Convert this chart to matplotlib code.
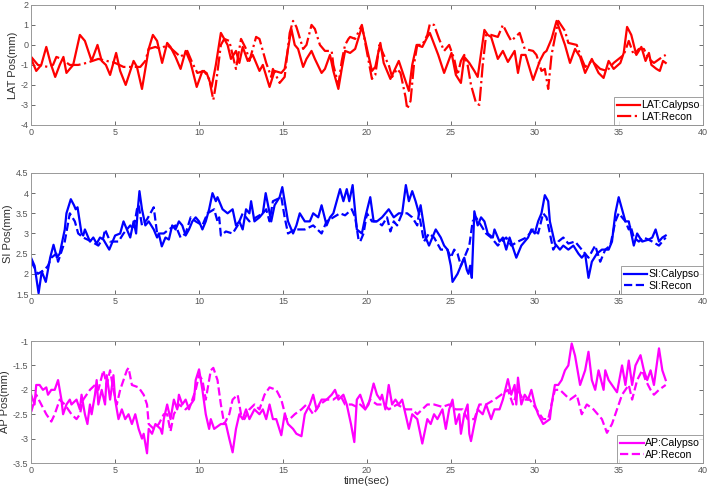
import matplotlib
matplotlib.use('Agg')
import matplotlib.pyplot as plt

# LAT (red)
lat_cal_t = [0.0, 0.3, 0.6, 0.9, 1.15, 1.43, 1.7, 1.92, 2.1, 2.5, 2.9, 3.2, 3.6, 3.95, 4.2, 4.45, 4.7,
             5.06, 5.3, 5.63, 6.1, 6.3, 6.6, 7.0, 7.25, 7.5, 7.8, 8.1, 8.3, 8.6, 8.9, 9.2, 9.5, 9.86,
             10.2, 10.45, 10.75, 11.0, 11.3, 11.7, 11.9, 12.2, 12.4, 12.6, 12.9, 13.2, 13.6, 13.8,
             14.2, 14.5, 14.9, 15.1, 15.5, 15.7, 15.9, 16.2, 16.4, 16.7, 16.9, 17.3, 17.5, 17.8,
             18.0, 18.3, 18.5, 18.7, 19.0, 19.3, 19.7, 19.9, 20.3, 20.5, 20.8, 21.0, 21.4, 21.9,
             22.1, 22.5, 22.7, 22.96, 23.3, 23.6, 23.75, 24.25, 24.6, 25.04, 25.3, 25.6, 25.8,
             26.1, 26.4, 26.6, 27.0, 27.2, 27.4, 27.8, 28.1, 28.4, 28.8, 29.0, 29.2, 29.45, 29.7,
             29.9, 30.3, 30.55, 30.7, 31.0, 31.3, 31.55, 31.8, 32.1, 32.4, 32.7, 33.0, 33.4, 33.8,
             34.1, 34.4, 34.7, 35.1, 35.3, 35.5, 35.75, 36.05, 36.35, 36.6, 36.8, 36.95, 37.25,
             37.45, 37.64, 37.8]
lat_cal_v = [-0.7, -1.3, -1.0, -0.1, -0.9, -1.6, -1.0, -0.6, -1.4, -1.0, 0.5, 0.2, -0.8, 0.0, -0.8, -1.0, -1.5,
             -0.4, -1.3, -2.0, -0.8, -1.1, -2.2, -0.2, 0.5, 0.2, -0.9, 0.1, -0.1, -0.6, -1.2, -0.3, -0.9, -2.1,
             -1.3, -1.4, -2.1, -1.0, 0.6, 0.0, -0.7, -0.3, -0.9, -0.1, -0.8, -0.5, -1.3, -1.0,
             -2.1, -1.3, -1.4, -1.2, 0.8, 0.0, -0.2, -1.1, -0.7, -0.3, -0.7, -1.4, -1.2, -0.5,
             -1.3, -2.2, -1.2, -0.3, -0.4, -0.2, 0.9, 0.2, -1.3, -1.1, 0.1, -0.9, -1.7, -0.8,
             -1.3, -2.3, -1.0, 0.0, -0.1, 0.4, 0.6, -0.5, -1.4, -0.4, -1.5, -1.9, -0.6,
             -0.9, -1.3, -1.6, 0.75, 0.5, 0.4, -0.7, -0.3, -0.85, -0.3, -1.4, -0.5, -0.5, -1.2,
             -1.75, -0.8, -0.4, -0.3, 0.3, 1.2, 0.6, 0.0, -0.9, -0.2, -0.6, -1.4, -0.7, -1.4,
             -1.65, -0.8, -1.2, -0.9, -0.4, 0.9, 0.5, -0.5, -0.1, -0.8, -0.4, -1.0, -1.2,
             -1.3, -0.8, -0.9]
lat_rec_t = [0.0, 0.4, 1.0, 1.3, 1.5, 1.8, 2.3, 2.8, 3.3, 4.0, 4.5, 5.0, 5.5, 6.5, 6.8, 7.0, 7.4, 7.7,
             8.1, 8.5, 8.9, 9.3, 9.6, 9.9, 10.3, 10.6, 10.85, 11.0, 11.3, 11.5, 11.8, 12.0, 12.2, 12.5,
             12.8, 13.0, 13.4, 13.6, 14.0, 14.3, 14.4, 14.8, 15.1, 15.4, 15.6, 15.8, 16.2, 16.4, 16.7,
             16.9, 17.2, 17.5, 17.9, 18.0, 18.3, 18.5, 18.7, 18.9, 19.0, 19.3, 19.7, 20.3, 20.5, 20.75,
             21.0, 21.3, 21.5, 21.8, 22.0, 22.3, 22.4, 22.6, 22.8, 23.0, 23.3, 23.6, 23.75, 24.0, 24.3,
             24.6, 24.9, 25.2, 25.4, 25.6, 25.8, 26.0, 26.2, 26.5, 26.7, 26.9, 27.1, 27.4, 27.8, 28.1,
             28.4, 28.6, 29.1, 29.4, 29.9, 30.1, 30.4, 30.6, 30.8, 31.0, 31.3, 31.4, 31.8, 32.0, 32.5,
             32.8, 33.0, 33.4, 33.9, 34.3, 34.7, 35.0, 35.3, 35.6, 35.9, 36.2, 36.5, 36.8, 37.1, 37.6, 37.8]
lat_rec_v = [-0.6, -1.0, -1.1, -1.0, -0.6, -0.7, -1.0, -1.0, -0.9, -0.7, -0.8, -0.9, -1.1, -1.1, -0.8, -0.2, -0.1, -0.2,
             0.0, -0.3, -0.6, -0.3, -0.9, -1.4, -1.3, -1.7, -2.75, -2.0, 0.0, 0.3, 0.2, -0.5, -1.2, 0.3,
             -0.2, -0.8, 0.4, 0.3, -0.9, -1.6, -1.2, -1.9, -1.6, 0.6, 1.2, 0.9, -0.2, 0.0, 1.0,
             0.8, 0.0, -0.3, -0.3, -1.0, -2.0, -0.8, 0.0, 0.3, 0.4, 0.3, 1.0, -1.7, -1.5, 0.0,
             -0.5, -1.0, -1.6, -1.2, -1.4, -2.6, -3.2, -2.8, -1.0, 0.0, 0.0, 0.5, 1.05, 1.0, 0.3,
             -0.3, 0.0, -0.7, -1.5, -0.8, -0.5, -1.0, -2.0, -2.9, -3.0, -1.0, 0.5, 0.5, 0.4, 1.0,
             0.5, 0.2, 0.6, -0.2, -0.3, -0.5, -1.3, -1.2, -2.2, -0.5, 0.8, 1.2, 0.7, 0.1, 0.0,
             -0.7, -1.1, -0.8, -1.2, -1.3, -0.9, -0.7, -0.5, 0.2, -0.5, -0.2, -0.2, -0.7, -0.9, -0.6, -0.5]

# SI (blue)
si_cal_t = [0.0, 0.2, 0.44, 0.63, 0.87, 1.13, 1.33, 1.53, 1.7, 1.9, 2.0, 2.1, 2.36, 2.55, 2.65, 2.76, 3.0,
            3.1, 3.2, 3.5, 3.7, 3.9, 4.1, 4.3, 4.65, 5.0, 5.3, 5.5, 5.7, 5.9, 6.1, 6.25, 6.35, 6.45, 6.6,
            6.8, 7.0, 7.3, 7.5, 7.6, 7.78, 8.0, 8.2, 8.4, 8.6, 8.8, 9.0, 9.2, 9.4, 9.6, 9.8, 10.0, 10.2,
            10.4, 10.6, 10.8, 11.0, 11.1, 11.4, 11.7, 12.0, 12.2, 12.4, 12.6, 12.8, 13.0, 13.1, 13.3,
            13.6, 13.8, 13.97, 14.3, 14.5, 14.8, 14.96, 15.1, 15.3, 15.6, 15.8, 16.0, 16.3, 16.6, 16.8,
            17.1, 17.3, 17.6, 17.8, 18.0, 18.2, 18.4, 18.6, 18.8, 18.95, 19.15, 19.4, 19.7, 19.9, 20.2,
            20.4, 20.6, 20.9, 21.3, 21.6, 21.9, 22.1, 22.32, 22.5, 22.7, 22.9, 23.1, 23.2, 23.5, 23.7,
            23.9, 24.1, 24.4, 24.6, 24.8, 25.0, 25.1, 25.4, 25.6, 25.8, 25.95, 26.05, 26.15, 26.25,
            26.4, 26.6, 26.8, 27.0, 27.2, 27.5, 27.6, 27.9, 28.1, 28.3, 28.5, 28.9, 29.2, 29.6, 29.8,
            30.0, 30.2, 30.4, 30.6, 30.8, 30.9, 31.2, 31.5, 31.7, 32.0, 32.3, 32.6, 32.8, 33.0, 33.2,
            33.4, 33.7, 34.0, 34.4, 34.6, 34.8, 35.0, 35.2, 35.4, 35.6, 35.8, 35.9, 36.1, 36.4, 36.8,
            37.0, 37.2, 37.4, 37.6, 37.8]
si_cal_v = [2.39, 2.2, 1.52, 2.06, 1.8, 2.4, 2.72, 2.4, 2.5, 2.9, 3.1, 3.5, 3.85, 3.7, 3.6, 3.65, 3.0,
            2.95, 3.1, 2.8, 2.9, 2.75, 2.9, 2.85, 2.6, 2.95, 3.0, 3.3, 3.1, 2.9, 3.3, 3.0, 3.6, 4.05, 3.6,
            3.2, 3.3, 3.1, 2.9, 3.0, 2.68, 2.9, 2.85, 3.2, 3.1, 3.3, 3.2, 2.95, 3.1, 3.3, 3.4, 3.3, 3.1,
            3.3, 3.6, 4.0, 3.8, 3.9, 3.6, 3.5, 3.6, 3.2, 3.3, 3.1, 3.6, 3.5, 3.8, 3.3,
            3.4, 3.5, 4.0, 3.3, 3.7, 3.9, 4.15, 3.8, 3.3, 3.0, 3.2, 3.5, 3.3, 3.3, 3.5,
            3.4, 3.7, 3.2, 3.4, 3.5, 3.8, 4.1, 3.8, 4.1, 3.8, 4.2, 3.1, 3.0, 3.4, 3.9,
            3.3, 3.3, 3.4, 3.6, 3.4, 3.5, 3.5, 4.2, 3.8, 4.05, 3.8, 3.5, 3.7, 2.9, 2.7,
            2.9, 3.1, 2.9, 2.7, 2.6, 2.2, 1.8, 2.0, 2.2, 2.4, 2.1, 2.0, 2.2, 1.9,
            3.55, 3.2, 3.4, 3.3, 3.0, 2.9, 3.1, 2.8, 2.9, 2.6, 2.9, 2.4, 2.7, 2.9, 3.1,
            3.0, 3.3, 3.5, 3.95, 3.8, 3.3, 2.75, 2.6, 2.7, 2.6, 2.7, 2.5, 2.4, 2.5, 1.9,
            2.3, 2.5, 2.6, 2.6, 2.8, 3.5, 3.9, 3.6, 3.3, 3.3, 2.9, 2.7, 3.0, 2.8, 2.85,
            2.9, 3.1, 2.8, 2.9, 2.95]
si_rec_t = [0.0, 0.4, 0.8, 1.0, 1.2, 1.5, 1.6, 2.0, 2.3, 2.6, 2.8, 3.1, 3.6, 4.0, 4.3, 4.4, 4.7, 5.2,
            5.5, 5.9, 6.1, 6.3, 6.4, 6.6, 6.9, 7.3, 7.5, 7.9, 8.2, 8.6, 8.9, 9.2, 9.5, 9.8, 10.2, 10.5,
            10.9, 11.1, 11.2, 11.3, 11.6, 12.0, 12.3, 12.6, 13.0, 13.4, 13.8, 14.0, 14.2, 14.4, 14.9,
            15.1, 15.3, 15.7, 16.3, 16.8, 17.3, 17.6, 18.0, 18.4, 18.7, 19.1, 19.3, 19.5, 19.6, 19.8,
            20.0, 20.3, 20.6, 20.9, 21.2, 21.4, 21.6, 21.8, 22.1, 22.4, 22.7, 23.0, 23.1, 23.4, 23.7,
            24.0, 24.4, 24.8, 25.0, 25.2, 25.4, 25.6, 25.9, 26.1, 26.3, 26.5, 26.8, 27.1, 27.4, 27.8,
            28.0, 28.3, 28.6, 29.0, 29.5, 29.9, 30.2, 30.5, 30.7, 31.1, 31.4, 31.7, 32.0, 32.4, 32.8,
            33.2, 33.6, 33.9, 34.2, 34.5, 34.8, 35.0, 35.4, 35.6, 35.7, 35.9, 36.2, 36.5, 37.0, 37.4,
            37.6, 37.8]
si_rec_v = [2.3, 2.0, 2.1, 2.2, 2.4, 2.5, 2.3, 2.8, 3.5, 3.3, 3.0, 2.9, 2.8, 2.7, 2.9, 3.1, 2.8, 2.8,
            3.0, 3.2, 3.1, 3.6, 3.7, 3.2, 3.35, 3.65, 3.0, 3.0, 3.1, 3.2, 2.9, 3.0, 3.4, 3.3, 3.2, 3.5,
            3.6, 3.3, 3.4, 2.95, 3.05, 3.0, 3.2, 3.5, 3.3, 3.4, 3.5, 3.6, 3.3, 3.8, 3.9,
            3.4, 3.0, 3.1, 3.1, 3.2, 3.0, 3.3, 3.4, 3.5, 3.45, 3.6, 3.4, 2.85, 2.8, 3.0,
            3.5, 3.3, 3.3, 3.2, 3.4, 3.05, 3.3, 3.2, 3.5, 3.5, 3.4, 3.2, 3.5, 2.8, 3.0,
            2.9, 2.6, 2.6, 2.4, 2.6, 2.5, 2.2, 2.5, 2.7, 3.3, 3.4, 3.2, 3.0, 2.9, 2.7,
            2.8, 2.9, 2.7, 2.8, 2.9, 3.1, 3.0, 3.5, 3.4, 2.6, 2.8, 2.9, 2.75, 2.8, 2.6,
            2.4, 2.7, 2.3, 2.6, 2.7, 3.3, 3.5, 3.3, 3.1, 3.2, 2.9, 2.8, 2.9, 2.8, 2.7,
            2.8, 2.9]

# AP (magenta)
ap_cal_t = [0.0, 0.2, 0.3, 0.5, 0.7, 0.9, 1.0, 1.2, 1.4, 1.6, 1.8, 1.9, 2.1, 2.3, 2.4, 2.7, 2.9, 3.0,
            3.2, 3.35, 3.5, 3.6, 3.8, 3.9, 4.0, 4.2, 4.4, 4.5, 4.7, 4.9, 5.0, 5.2, 5.4, 5.6, 5.8, 6.0,
            6.2, 6.4, 6.6, 6.7, 6.9, 7.0, 7.2, 7.4, 7.7, 7.8, 7.9, 8.1, 8.3, 8.5, 8.7, 8.8, 9.0, 9.2,
            9.4, 9.5, 9.7, 9.8, 10.0, 10.2, 10.4, 10.6, 10.7, 10.9, 11.3, 11.6, 11.8, 12.0, 12.2,
            12.4, 12.6, 12.8, 13.0, 13.3, 13.6, 13.8, 14.0, 14.2, 14.4, 14.6, 14.9, 15.1, 15.3, 15.6,
            15.8, 16.1, 16.3, 16.6, 16.8, 17.0, 17.3, 17.6, 17.9, 18.1, 18.3, 18.6, 18.8, 19.05,
            19.25, 19.4, 19.6, 19.9, 20.1, 20.4, 20.6, 20.8, 20.9, 21.1, 21.3, 21.5, 21.7, 21.9,
            22.1, 22.3, 22.5, 22.7, 23.0, 23.3, 23.6, 23.8, 24.0, 24.2, 24.5, 24.7, 24.9, 25.1,
            25.3, 25.5, 25.6, 25.8, 26.0, 26.1, 26.2, 26.4, 26.6, 26.9, 27.1, 27.4, 27.6, 27.9,
            28.1, 28.4, 28.6, 28.8, 28.9, 29.0, 29.2, 29.4, 29.6, 29.8, 30.0, 30.2, 30.5, 30.7,
            30.9, 31.0, 31.2, 31.4, 31.6, 31.8, 32.0, 32.2, 32.4, 32.7, 33.0, 33.2, 33.4, 33.6,
            33.8, 34.1, 34.2, 34.4, 34.6, 34.9, 35.2, 35.4, 35.6, 35.8, 36.0, 36.3, 36.5, 36.7,
            36.9, 37.1, 37.3, 37.4, 37.6, 37.8]
ap_cal_v = [-2.1, -2.3, -1.9, -1.9, -2.0, -1.95, -2.1, -2.0, -2.0, -1.8, -2.2, -2.5, -2.3, -2.2, -2.3, -2.2, -2.4, -2.1,
            -2.5, -2.7, -2.3, -2.5, -2.1, -1.8, -2.3, -2.0, -2.3, -1.7, -2.2, -1.7, -2.2, -2.6, -2.4, -2.6, -2.5, -2.7,
            -2.5, -2.8, -3.0, -2.9, -3.3, -2.8, -2.9, -2.7, -2.8, -2.9, -2.6, -2.3, -2.6, -2.2, -2.4, -2.1, -2.3, -2.2,
            -2.4, -2.3, -2.2, -1.8, -1.58, -2.0, -2.5, -2.8, -2.6, -2.8, -2.7, -2.7, -3.0, -3.28, -2.8,
            -2.5, -2.6, -2.4, -2.6, -2.4, -2.5, -2.4, -2.6, -2.3, -2.6, -2.6, -2.93, -2.5, -2.7, -2.8,
            -2.9, -2.95, -2.5, -2.3, -2.1, -2.4, -2.2, -2.2, -2.1, -2.0, -2.2, -2.1, -2.3, -2.7,
            -3.07, -2.2, -2.1, -2.4, -2.3, -1.87, -2.1, -2.2, -2.1, -2.4, -1.9, -2.3, -2.2, -2.3,
            -2.2, -2.5, -2.8, -2.5, -2.6, -3.1, -2.6, -2.7, -2.5, -2.6, -2.4, -2.8, -2.4, -2.2,
            -2.7, -2.5, -2.9, -2.5, -2.3, -2.9, -3.05, -2.7, -2.4, -2.5, -2.3, -2.6, -2.4, -2.4,
            -2.2, -1.78, -2.1, -1.9, -2.3, -1.75, -2.3, -2.1, -2.2, -2.0, -2.3, -2.5, -2.7, -2.65,
            -2.6, -2.3, -1.9, -1.9, -1.8, -1.6, -1.5, -1.05, -1.3, -1.9, -1.6, -1.22, -1.8, -2.0,
            -1.6, -2.0, -1.6, -1.8, -1.9, -2.05, -1.5, -1.9, -1.4, -1.9, -1.5, -1.29, -1.6, -1.8,
            -1.6, -1.9, -1.4, -1.15, -1.6, -1.8]
ap_rec_t = [0.0, 0.3, 0.6, 0.9, 1.2, 1.4, 1.7, 2.0, 2.4, 2.7, 2.9, 3.1, 3.5, 3.8, 4.0, 4.3, 4.5, 4.7,
            4.9, 5.1, 5.3, 5.7, 5.8, 6.0, 6.4, 6.7, 6.9, 7.0, 7.3, 7.6, 7.9, 8.1, 8.3, 8.5, 8.8, 9.2,
            9.5, 9.8, 10.0, 10.2, 10.4, 10.7, 10.85, 11.1, 11.3, 11.5, 11.8, 12.0, 12.3, 12.5, 12.7,
            13.0, 13.3, 13.6, 13.9, 14.2, 14.6, 14.9, 15.2, 15.4, 15.7, 16.1, 16.4, 16.8, 17.2, 17.6,
            18.0, 18.4, 18.7, 19.1, 19.4, 19.6, 19.9, 20.2, 20.6, 21.0, 21.3, 21.8, 22.3, 22.7, 23.0,
            23.6, 24.0, 24.5, 24.9, 25.3, 25.7, 26.0, 26.4, 26.7, 27.1, 27.6, 28.0, 28.4, 28.7, 29.0,
            29.3, 29.7, 30.1, 30.5, 30.8, 31.2, 31.5, 31.8, 32.1, 32.5, 32.8, 33.1, 33.5, 34.0, 34.3,
            34.6, 34.9, 35.2, 35.6, 35.8, 36.1, 36.4, 36.6, 36.9, 37.1, 37.4, 37.8]
ap_rec_v = [-2.45, -2.1, -2.3, -2.5, -2.65, -2.5, -2.2, -2.3, -2.5, -2.6, -2.5, -2.2, -2.0, -1.9, -2.0, -1.6, -1.9, -1.6,
            -2.0, -2.3, -2.0, -1.6, -1.55, -1.9, -1.95, -2.1, -2.3, -2.7, -2.8, -2.7, -2.5, -2.5, -2.85, -2.5, -2.3, -2.4,
            -2.3, -2.0, -1.7, -1.8, -2.2, -1.6, -1.55, -1.8, -2.3, -2.7, -2.5, -2.2, -2.1, -2.5, -2.6,
            -2.4, -2.3, -2.4, -2.1, -1.95, -2.0, -2.2, -2.6, -2.6, -2.5, -2.4, -2.3, -2.5, -2.3, -2.2,
            -2.2, -2.1, -2.3, -2.3, -2.35, -2.3, -2.4, -2.2, -2.3, -2.3, -2.4, -2.3, -2.4, -2.4, -2.5,
            -2.3, -2.3, -2.35, -2.3, -2.4, -2.4, -2.6, -2.6, -2.3, -2.3, -2.2, -2.1, -2.0, -2.3, -2.0,
            -2.2, -2.2, -2.4, -2.6, -2.6, -2.0, -2.0, -2.1, -2.2, -2.1, -2.5, -2.3, -2.4, -2.6, -2.88,
            -2.7, -2.4, -2.1, -1.9, -2.2, -1.8, -1.6, -1.8, -2.0, -2.1, -2.0, -1.9]

panels = [
    ('LAT', 'red', '-.', lat_cal_t, lat_cal_v, lat_rec_t, lat_rec_v, (-4, 2), [-4, -3, -2, -1, 0, 1, 2]),
    ('SI', 'blue', '--', si_cal_t, si_cal_v, si_rec_t, si_rec_v, (1.5, 4.5), [1.5, 2, 2.5, 3, 3.5, 4, 4.5]),
    ('AP', 'magenta', '--', ap_cal_t, ap_cal_v, ap_rec_t, ap_rec_v, (-3.5, -1), [-3.5, -3, -2.5, -2, -1.5, -1]),
]

plt.rcParams['font.family'] = ['Liberation Sans', 'DejaVu Sans']
fig = plt.figure(figsize=(7.09, 4.90), dpi=100)
boxes = [[0.044, 0.745, 0.947, 0.245], [0.044, 0.40, 0.947, 0.247], [0.044, 0.055, 0.947, 0.249]]

for box, (name, col, ls, ct, cv, rt, rv, ylim, yt) in zip(boxes, panels):
    ax = fig.add_axes(box)
    ax.plot(ct, cv, color=col, lw=1.6, ls='-', label=name + ':Calypso')
    ax.plot(rt, rv, color=col, lw=1.6, ls=ls, label=name + ':Recon')
    ax.set_xlim(0, 40)
    ax.set_ylim(*ylim)
    ax.set_xticks(range(0, 41, 5))
    ax.set_yticks(yt)
    ax.set_yticklabels(['%g' % v for v in yt])
    ax.tick_params(direction='in', top=True, right=True, labelsize=6.5, colors='#555555',
                   length=3, width=0.6, pad=2)
    for s in ax.spines.values():
        s.set_color('#999999')
        s.set_linewidth(0.7)
    ax.set_ylabel(name + ' Pos(mm)', fontsize=8, labelpad=2, color='#303030')
    leg = ax.legend(loc='lower right', fontsize=7.6, frameon=True, fancybox=False,
                    borderaxespad=0, handlelength=2.2, handletextpad=0.1, borderpad=0.3,
                    labelspacing=0.15)
    leg.get_frame().set_edgecolor('#888888')
    leg.get_frame().set_linewidth(0.7)

ax.set_xlabel('time(sec)', fontsize=8, labelpad=1, color='#303030')
fig.savefig('out.png', dpi=100)
